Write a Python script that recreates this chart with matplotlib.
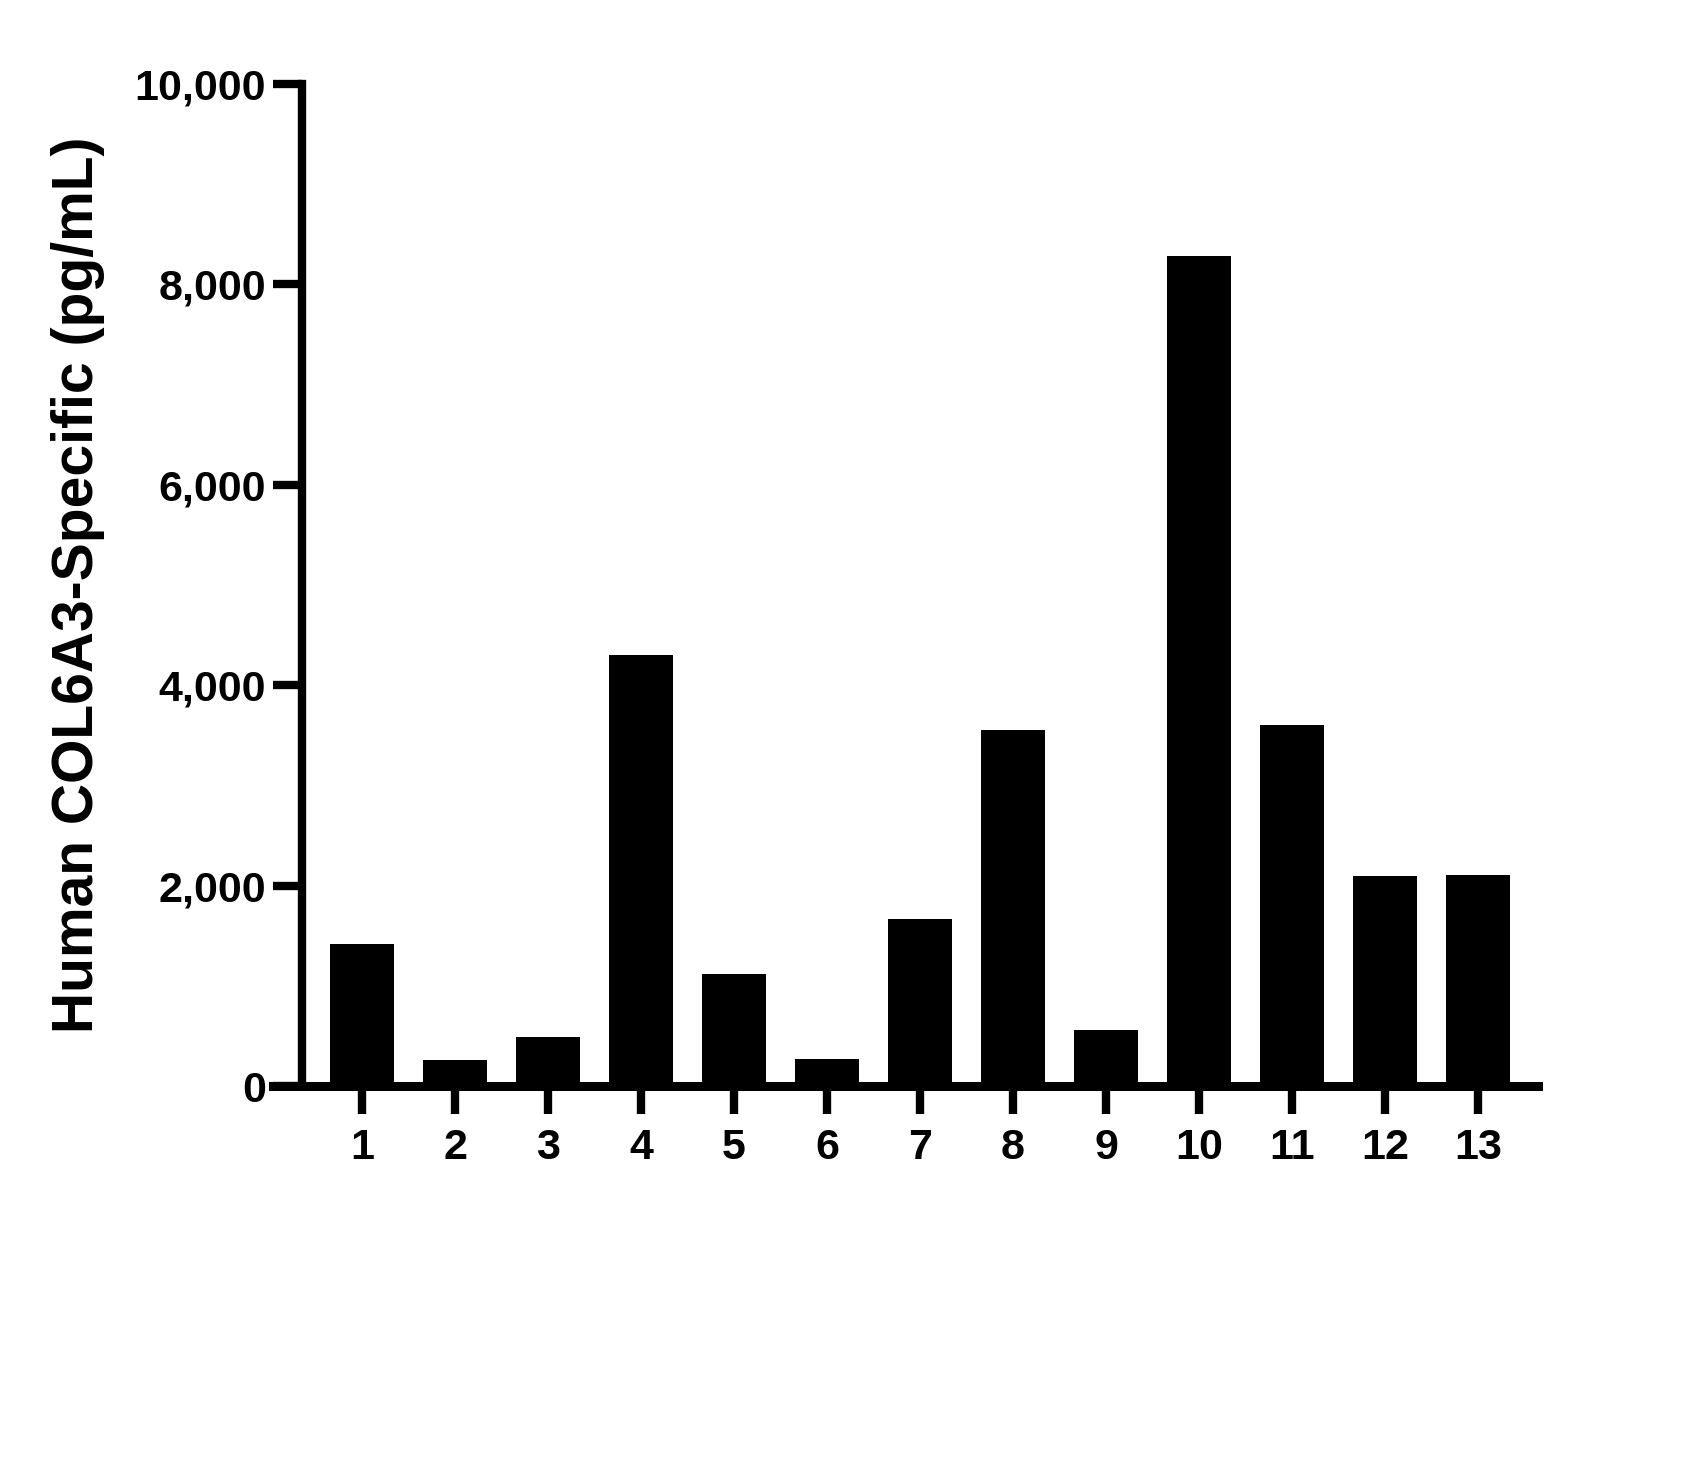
import matplotlib
matplotlib.use("Agg")
import matplotlib.pyplot as plt
from matplotlib.ticker import FuncFormatter

plt.rcParams['font.family'] = ['Liberation Sans', 'DejaVu Sans']
plt.rcParams['font.weight'] = 'bold'

categories = ['1', '2', '3', '4', '5', '6', '7', '8', '9', '10', '11', '12', '13']
values = [1417, 259, 489, 4301, 1118, 269, 1667, 3553, 559, 8283, 3603, 2096, 2106]
y_ticks = [0, 2000, 4000, 6000, 8000, 10000]
y_label = 'Human COL6A3-Specific (pg/mL)'

fig = plt.figure(figsize=(17, 14.78), dpi=100)
ax = fig.add_axes([273/1700, (1478-1086)/1478, (1538-273)/1700, 1002/1478])

x = list(range(len(categories)))
ax.bar(x, values, width=0.68, color='black', edgecolor='none', zorder=2)

ax.set_xlim(-0.957, 12.645)
ax.set_ylim(0, 10000)

for s in ['top', 'right']:
    ax.spines[s].set_visible(False)
ax.spines['left'].set_position(('data', -0.645))
ax.spines['left'].set_linewidth(6)
ax.spines['bottom'].set_linewidth(6.5)
ax.spines['left'].set_zorder(3)
ax.spines['bottom'].set_zorder(3)

ax.set_xticks(x)
ax.set_xticklabels(categories)
ax.set_yticks(y_ticks)
ax.yaxis.set_major_formatter(FuncFormatter(lambda v, p: f"{int(v):,}"))

ax.tick_params(axis='y', direction='out', length=21, width=6, pad=5, labelsize=31)
ax.tick_params(axis='x', direction='out', length=20, width=6, pad=10, labelsize=31)
for lab in ax.get_xticklabels() + ax.get_yticklabels():
    lab.set_fontweight('bold')

ax.set_ylabel(y_label, fontsize=41, fontweight='bold')
ax.yaxis.set_label_coords(-0.133, 0.5)

fig.savefig('out.png', dpi=100, facecolor='white')
